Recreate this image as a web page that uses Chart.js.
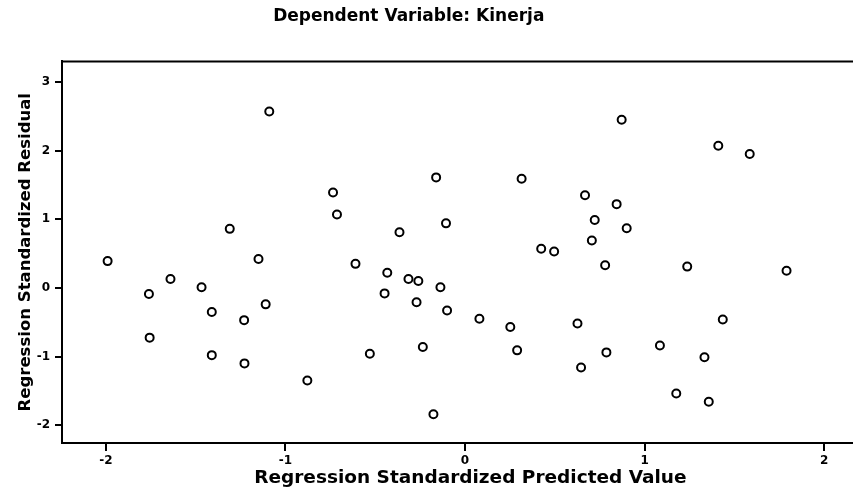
<!DOCTYPE html>
<html>
<head>
<meta charset="utf-8">
<script src="https://cdn.jsdelivr.net/npm/chart.js@4"></script>
<style>
  html, body { margin: 0; padding: 0; background: #fff; }
  #wrap { width: 853px; height: 497px; position: relative; }
</style>
</head>
<body>
<div id="wrap"><canvas id="myChart"></canvas></div>
<script>
var predicted = [
  -1.09, -0.735, -0.713, -1.31, -0.365,
  -1.99, -1.15, -0.61, -0.433, -1.64, -0.315, -0.26, -1.467, -1.76, -0.448,
  -0.27, -1.41, -1.11, -1.23, -1.756, -1.41, -1.228, -0.53, -0.235, -0.878,
  0.872, 1.41, 1.585, -0.161, 0.315, 0.668, 0.844, -0.106, 0.722, 0.9,
  0.706, 0.424, 0.496,
  0.78, 1.237, 1.79, -0.137, -0.1, 0.08, 0.252, 0.626, 1.435, 0.29,
  0.787, 1.085, 1.333, 0.646, 1.176, 1.357, -0.176
];
var residual = [
  2.57, 1.39, 1.07, 0.86, 0.81,
  0.39, 0.42, 0.35, 0.22, 0.13, 0.13, 0.10, 0.01, -0.09, -0.08,
  -0.21, -0.35, -0.24, -0.47, -0.725, -0.98, -1.10, -0.96, -0.86, -1.35,
  2.45, 2.07, 1.95, 1.61, 1.59, 1.35, 1.22, 0.94, 0.99, 0.87,
  0.69, 0.57, 0.53,
  0.33, 0.31, 0.25, 0.01, -0.33, -0.45, -0.57, -0.52, -0.46, -0.91,
  -0.94, -0.84, -1.01, -1.16, -1.54, -1.66, -1.84
];
var xTicks = [-2, -1, 0, 1, 2];
var yTicks = [-2, -1, 0, 1, 2, 3];

var points = predicted.map(function (v, i) {
  return { x: v, y: residual[i] };
});

// top edge of the plot box
const boxTop = {
  id: 'boxTop',
  afterDraw(chart) {
    const a = chart.chartArea;
    const c = chart.ctx;
    c.save();
    c.strokeStyle = '#000';
    c.lineWidth = 2;
    c.beginPath();
    c.moveTo(a.left, a.top);
    c.lineTo(a.right, a.top);
    c.stroke();
    c.restore();
  }
};

const font = '"DejaVu Sans", Arial, sans-serif';

const ctx = document.getElementById("myChart");
new Chart(ctx, {
  type: "scatter",
  data: {
    datasets: [
      {
        label: "residuals",
        data: points,
        pointStyle: 'circle',
        pointRadius: 4,
        pointBorderWidth: 2,
        borderColor: '#000',
        backgroundColor: '#fff',
      },
    ],
  },
  options: {
    responsive: true,
    maintainAspectRatio: false,
    animation: false,
    layout: { padding: 0, autoPadding: false },
    plugins: {
      legend: { display: false },
      tooltip: { enabled: false },
      title: {
        display: true,
        text: 'Dependent Variable: Kinerja      ',
        color: '#000',
        font: { family: font, size: 17, weight: 'bold' },
        padding: { top: 6, bottom: 35 },
      },
    },
    scales: {
      x: {
        type: 'linear',
        min: -2.244,
        max: 2.16,
        afterBuildTicks: function (scale) {
          scale.ticks = xTicks.map(function (v) { return { value: v }; });
        },
        afterFit: function (scale) {
          scale.height = 54;
          scale.paddingLeft = 0;
          scale.paddingRight = 0;
        },
        border: { display: true, color: '#000', width: 2 },
        grid: { drawOnChartArea: false, drawTicks: true, tickLength: 8, color: '#000', lineWidth: 2 },
        ticks: { color: '#000', padding: 3, font: { family: font, size: 12, weight: 'bold' } },
        title: {
          display: true,
          text: '    Regression Standardized Predicted Value',
          color: '#000',
          font: { family: font, size: 18.5, weight: 'bold' },
          padding: { top: 0, bottom: 8 },
        },
      },
      y: {
        type: 'linear',
        min: -2.26,
        max: 3.3,
        afterBuildTicks: function (scale) {
          scale.ticks = yTicks.map(function (v) { return { value: v }; });
        },
        afterFit: function (scale) { scale.width = 62; },
        border: { display: true, color: '#000', width: 2 },
        grid: { drawOnChartArea: false, drawTicks: true, tickLength: 7, color: '#000', lineWidth: 2 },
        ticks: { color: '#000', padding: 5, font: { family: font, size: 12, weight: 'bold' } },
        title: {
          display: true,
          text: 'Regression Standardized Residual',
          color: '#000',
          font: { family: font, size: 16.5, weight: 'bold' },
          padding: { top: 16, bottom: 0 },
        },
      },
    },
  },
  plugins: [boxTop],
});
</script>
</body>
</html>
